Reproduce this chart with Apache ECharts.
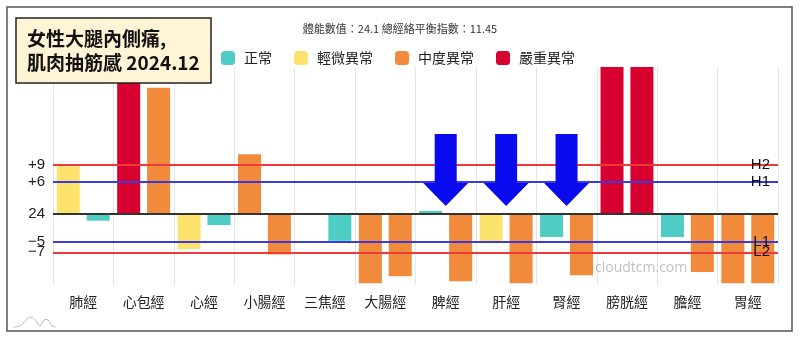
<!DOCTYPE html>
<html>
<head>
<meta charset="utf-8">
<script src="https://cdn.jsdelivr.net/npm/echarts@6/dist/echarts.min.js"></script>
<style>html,body{margin:0;padding:0;background:#fff;}#c{width:800px;height:341px;}</style>
</head>
<body>
<div id="c"></div>
<script>
const categories = ['肺經','心包經','心經','小腸經','三焦經','大腸經','脾經','肝經','腎經','膀胱經','膽經','胃經'];
const leftValues  = [8.8, 28, -6.4, 11.0, 0, -12.7, 0.6, -5.3, -4.2, 28, -4.2, -12.7];
const leftStatus  = ['輕微異常','嚴重異常','輕微異常','中度異常','正常','中度異常','正常','輕微異常','正常','嚴重異常','正常','中度異常'];
const rightValues = [-1.2, 23.2, -2.0, -7.4, -4.9, -11.4, -12.3, -12.7, -11.2, 28, -10.6, -12.7];
const rightStatus = ['正常','中度異常','正常','中度異常','正常','中度異常','中度異常','中度異常','中度異常','嚴重異常','中度異常','中度異常'];
const statusNames = ['正常','輕微異常','中度異常','嚴重異常'];
const statusColors = ['#4ECDC4','#FDE36B','#F28A3B','#D8002E'];
const yTickLabels = {'9':'+9','6':'+6','0':'24','-5':'−5','-7':'−7'};
const refLines = [
  {value: 9, name: 'H2', color: '#EE3A3A'},
  {value: 6, name: 'H1', color: '#3A3AE0'},
  {value: -5, name: 'L1', color: '#3A3AE0'},
  {value: -7, name: 'L2', color: '#EE3A3A'}
];
const arrowCats = ['脾經','肝經','腎經'];
const arrowTop = [14.7, 14.7, 14.7];
const arrowTip = [1.5, 1.5, 1.5];

const colorOf = s => statusColors[statusNames.indexOf(s)];
const mkData = (vals, st) => vals.map((v, i) => ({value: v, itemStyle: {color: colorOf(st[i])}}));

const chart = echarts.init(document.getElementById('c'), null, {renderer: 'canvas'});
const FONT = '"Noto Sans CJK TC", "Noto Sans", sans-serif';

const markLineData = refLines.map(l => ({
  yAxis: l.value,
  lineStyle: {color: l.color, width: 1.8, type: 'solid'},
  label: {show: true, formatter: l.name, position: 'insideEnd', align: 'right', verticalAlign: 'middle',
          distance: 8, color: '#111', fontSize: 15, fontFamily: '"Liberation Sans", sans-serif'}
}));
markLineData.push({yAxis: 0, lineStyle: {color: '#333', width: 2, type: 'solid'}, label: {show: false}});

const option = {
  animation: false,
  textStyle: {fontFamily: FONT},
  title: [
    {
      text: '女性大腿內側痛,\n肌肉抽筋感 2024.12',
      left: 16, top: 18,
      backgroundColor: '#FFF4D6',
      borderColor: '#222', borderWidth: 1.5,
      padding: [9, 12, 8, 11],
      textStyle: {fontSize: 19, fontWeight: 'bold', color: '#111', lineHeight: 24, fontFamily: FONT}
    },
    {
      text: '體能數值：24.1 總經絡平衡指數：11.45',
      left: 'center', top: 23,
      padding: 0,
      textStyle: {fontSize: 11, fontWeight: 'normal', color: '#333', fontFamily: FONT}
    }
  ],
  legend: {
    left: 221, top: 51, padding: 0,
    icon: 'roundRect',
    itemWidth: 14, itemHeight: 14, itemGap: 22,
    data: statusNames,
    textStyle: {fontSize: 14, color: '#222', padding: [0, 0, 0, 4], fontFamily: FONT}
  },
  grid: {left: 53, right: 22, top: 67, bottom: 56},
  xAxis: {
    type: 'category',
    data: categories,
    axisLine: {show: false},
    axisTick: {show: false},
    axisLabel: {fontSize: 14, color: '#222', margin: 10, fontFamily: FONT},
    splitLine: {show: true, lineStyle: {color: '#E6E6E6', width: 1}}
  },
  yAxis: {
    type: 'value',
    min: -13, max: 27, interval: 1,
    axisLine: {show: false},
    axisTick: {show: false},
    splitLine: {show: false},
    axisLabel: {
      margin: 8, fontSize: 15, color: '#222', fontFamily: '"Liberation Sans", sans-serif',
      formatter: v => (yTickLabels[String(v)] || '')
    }
  },
  series: [
    {
      type: 'bar', name: 'left', data: mkData(leftValues, leftStatus),
      barWidth: 23, barGap: '30%', clip: true,
      markLine: {silent: true, symbol: 'none', data: markLineData, z: 5}
    },
    {
      type: 'bar', name: 'right', data: mkData(rightValues, rightStatus),
      barWidth: 23, barGap: '30%', clip: true
    },
    ...statusNames.map((n, i) => ({type: 'scatter', name: n, data: [], itemStyle: {color: statusColors[i], opacity: 1}})),
    {
      type: 'custom', name: 'arrows', z: 10,
      data: arrowCats.map((c, i) => [c, arrowTop[i], arrowTip[i]]),
      encode: {x: 0, y: [1, 2]},
      renderItem: function (params, api) {
        const top = api.coord([api.value(0), api.value(1)]);
        const tip = api.coord([api.value(0), api.value(2)]);
        const cx = top[0];
        const sh = 11, hh = 22.5, headH = 23;
        const base = tip[1] - headH;
        return {
          type: 'polygon',
          shape: {points: [[cx - sh, top[1]], [cx + sh, top[1]], [cx + sh, base], [cx + hh, base],
                           [cx, tip[1]], [cx - hh, base], [cx - sh, base]]},
          style: {fill: '#0A0AEE'}
        };
      }
    }
  ],
  graphic: [
    {type: 'rect', z: -10, shape: {x: 7, y: 7, width: 785, height: 324},
     style: {fill: 'none', stroke: '#555', lineWidth: 1.5}},
    {type: 'text', left: 595, top: 261, z: 20,
     style: {text: 'cloudtcm.com', fill: 'rgba(165,165,165,0.7)', font: '14px "Open Sans", sans-serif'}},
    {type: 'polyline', z: 20,
     shape: {points: [[13,327],[20,326],[26,320],[31,317],[36,321],[40,326],[44,320],[48,320],[52,326],[56,327]], smooth: 0.4},
     style: {stroke: '#BBBBBB', lineWidth: 1, fill: 'none'}}
  ]
};
chart.setOption(option);
</script>
</body>
</html>
